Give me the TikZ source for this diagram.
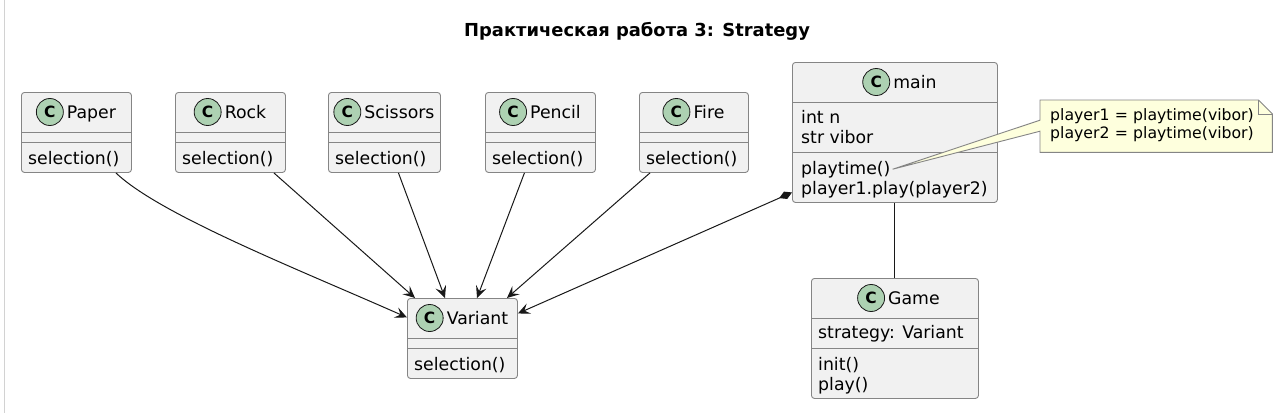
\documentclass[tikz,border=0pt]{standalone}
\usepackage{fontspec}
\setmainfont{DejaVu Sans}
\usetikzlibrary{arrows.meta}
\usetikzlibrary{positioning}
\definecolor{boxfill}{HTML}{F1F1F1}
\definecolor{boxline}{HTML}{858585}
\definecolor{badgefill}{HTML}{ADD1B2}
\definecolor{notefill}{HTML}{FEFFDD}
\definecolor{ink}{HTML}{181818}

\begin{document}
\begin{tikzpicture}[x=1pt,y=-1pt,
  every node/.style={inner sep=0pt,font=\fontsize{17.3}{20}\selectfont},
  classbox/.style={draw=boxline,fill=boxfill,rounded corners=3pt,line width=0.9pt,anchor=north west},
  sepline/.style={draw=boxline,line width=0.9pt},
  badge/.style={circle,draw=ink,fill=badgefill,line width=0.8pt,minimum size=27pt,
    font=\fontsize{15.5}{15.5}\selectfont\bfseries,label distance=3pt},
  cname/.style={text height=12.6pt,text depth=0pt,label={[badge]left:C}},
  member/.style={anchor=base west},
  dep/.style={draw=ink,line width=1pt,-{Stealth[length=12pt,width=11pt,inset=5pt]}},
  comp/.style={draw=ink,line width=1pt,{Diamond[length=14pt,width=8pt]}-{Stealth[length=12pt,width=11pt,inset=5pt]}},
  assoc/.style={draw=ink,line width=1pt},
  notebody/.style={draw=boxline,fill=notefill,line width=0.9pt},
  notetext/.style={font=\fontsize{15.7}{18}\selectfont,align=left,text width=212pt}]
  \useasboundingbox (0,0) rectangle (1277,413);
  \draw[gray!35] (4,0) -- (4,413);

  \node[font=\fontsize{17.9}{20}\selectfont\bfseries,anchor=base] (title) at (637,36) {Практическая работа 3: Strategy};

  % strategies in the top row
  \foreach \cls/\lbl/\x/\w in {paper/Paper/21/110,rock/Rock/175/110,scissors/Scissors/328/112,pencil/Pencil/485/110,fire/Fire/639/109}{
    \node[classbox,minimum width=\w pt,minimum height=80pt] (\cls) at (\x,92) {};
    \node[cname] (\cls-name) at ([xshift=15pt,yshift=-20pt]\cls.north) {\lbl};
    \draw[sepline] ([yshift=-40pt]\cls.north west) -- ([yshift=-40pt]\cls.north east);
    \draw[sepline] ([yshift=-50pt]\cls.north west) -- ([yshift=-50pt]\cls.north east);
    \node[member] (\cls-m1) at ([xshift=7pt,yshift=-72pt]\cls.north west) {selection()};
  }

  % interface
  \node[classbox,minimum width=110pt,minimum height=80pt] (variant) at (407,298) {};
  \node[cname] (variant-name) at ([xshift=15pt,yshift=-20pt]variant.north) {Variant};
  \draw[sepline] ([yshift=-40pt]variant.north west) -- ([yshift=-40pt]variant.north east);
  \draw[sepline] ([yshift=-50pt]variant.north west) -- ([yshift=-50pt]variant.north east);
  \node[member] (variant-m1) at ([xshift=7pt,yshift=-72pt]variant.north west) {selection()};

  % main
  \node[classbox,minimum width=205pt,minimum height=140pt] (main) at (792,62) {};
  \node[cname] (main-name) at ([xshift=20pt,yshift=-20pt]main.north) {main};
  \draw[sepline] ([yshift=-40pt]main.north west) -- ([yshift=-40pt]main.north east);
  \draw[sepline] ([yshift=-90pt]main.north west) -- ([yshift=-90pt]main.north east);
  \node[member] (main-f1) at ([xshift=9pt,yshift=-61pt]main.north west) {int n};
  \node[member] (main-f2) at ([xshift=9pt,yshift=-81pt]main.north west) {str vibor};
  \node[member] (main-m1) at ([xshift=9pt,yshift=-112pt]main.north west) {playtime()};
  \node[member] (main-m2) at ([xshift=9pt,yshift=-132pt]main.north west) {player1.play(player2)};

  % game
  \node[classbox,minimum width=167pt,minimum height=120pt] (game) at (811,278) {};
  \node[cname] (game-name) at ([xshift=19pt,yshift=-20pt]game.north) {Game};
  \draw[sepline] ([yshift=-40pt]game.north west) -- ([yshift=-40pt]game.north east);
  \draw[sepline] ([yshift=-70pt]game.north west) -- ([yshift=-70pt]game.north east);
  \node[member] (game-f1) at ([xshift=7pt,yshift=-60pt]game.north west) {strategy: Variant};
  \node[member] (game-m1) at ([xshift=7pt,yshift=-92pt]game.north west) {init()};
  \node[member] (game-m2) at ([xshift=7pt,yshift=-112pt]game.north west) {play()};

  % note on playtime()
  \coordinate (ptime) at ([xshift=2pt]main-m1.east);
  \node[anchor=north west,minimum width=232pt,minimum height=52pt] (note) at (1040,100) {};
  \filldraw[notebody] (note.north west) -- ([xshift=-14pt]note.north east) -- ([yshift=-14pt]note.north east)
    -- (note.south east) -- (note.south west) -- ([yshift=-5pt]note.west) -- (ptime)
    -- ([yshift=6pt]note.west) -- cycle;
  \draw[notebody,fill=none] ([xshift=-14pt]note.north east) |- ([yshift=-14pt]note.north east);
  \node[notetext] (note-text) at ([yshift=1pt]note.center) {player1 = playtime(vibor)\\player2 = playtime(vibor)};

  % relations
  \draw[dep] ([xshift=-16pt]paper.south east) .. controls (160,215) and (300,270) .. ([yshift=21pt]variant.west);
  \draw[dep] ([xshift=-12pt]rock.south east) -- ([xshift=8pt]variant.north west);
  \draw[dep] ([xshift=14pt]scissors.south) -- ([xshift=38pt]variant.north west);
  \draw[dep] ([xshift=-16pt]pencil.south) -- ([xshift=70pt]variant.north west);
  \draw[dep] ([xshift=11pt]fire.south west) -- ([xshift=100pt]variant.north west);
  \draw[comp] ([yshift=-60pt]main.west) -- ([yshift=25pt]variant.east);
  \draw[assoc] (main) -- (game);
\end{tikzpicture}
\end{document}
